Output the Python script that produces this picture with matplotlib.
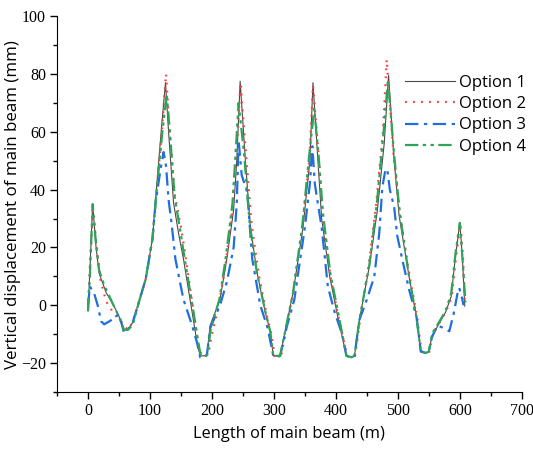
import matplotlib.pyplot as plt
from matplotlib.ticker import MultipleLocator

# Option 1 (solid)
x1 = [0, 3, 7.5, 13, 18, 29, 42, 50, 58, 64, 72, 82, 93, 104, 109, 118, 125, 130, 138, 146, 154, 168, 176,
      181, 188, 192, 197, 213, 224, 235, 240, 245.5, 254, 262, 273, 286, 294, 299, 305, 310, 320, 331, 347,
      358, 363, 371, 377, 390, 403, 417, 425, 430, 438, 454, 467, 478, 485, 494, 502, 518, 530, 537, 545,
      550, 555, 577, 586, 593, 600, 604, 608]
y1 = [-2, 12, 35, 20, 11, 4.5, -0.3, -3.8, -8.3, -8.5, -6, 1, 9, 23, 36.5, 60, 77, 60, 35.5, 25, 16, -2.4, -13,
      -17.5, -17.5, -17, -7, 2, 16, 33, 50, 77.5, 50, 27, 11, -2.4, -9, -17.5, -17.5, -17.5, -7, 4.5, 27,
      50, 77, 50, 30, 10, -4, -17.5, -18, -17.5, -5, 13.5, 33, 56, 79.5, 50, 31, 10, -4, -16, -16.5,
      -16, -10.7, -2.4, 3, 17, 28.5, 17, -0.3]

# Option 2 (dotted)
x2 = [0, 3, 8, 13, 20, 29, 42, 55, 64, 72, 82, 93, 104, 110, 119, 126, 131, 140, 150, 158, 170, 178,
      183, 190, 194, 200, 211, 222, 233, 239, 246, 255, 264, 276, 288, 296, 301, 307, 312, 321, 331, 346,
      357, 363, 372, 379, 392, 405, 418, 426, 431, 439, 453, 465, 476, 482, 493, 503, 519, 531, 538, 546,
      551, 556, 578, 587, 594, 601, 605, 608]
y2 = [-1, 14, 33, 22, 9, 1.4, -3, -6, -8.5, -6, 1, 9, 23, 38, 60, 80, 62, 38, 27, 16, -2, -13,
      -17.5, -17.5, -17, -10, 0, 14, 33, 50, 77, 52, 28, 10, -3, -10, -17.5, -17.5, -17, -7, 4.5, 27,
      50, 76, 52, 30, 9, -5, -17.5, -18, -17.5, -5, 14, 35, 60, 85, 52, 32, 10, -4, -16, -16.5,
      -16, -10, -2, 3, 17, 28, 17, 0]

# Option 3 (dash-dot)
x3 = [0, 3, 10, 16, 21, 26, 35, 45, 50, 58, 64, 72, 82, 93, 104, 109, 117, 122, 126, 130, 135, 141, 154,
      168, 176, 181, 188, 192, 197, 213, 224, 235, 240, 243, 248, 257, 265, 278, 290, 299, 305, 310, 320,
      333, 339, 350, 358, 362, 366, 371, 377, 387, 398, 410, 417, 425, 430, 438, 450, 462, 470, 475, 480,
      483, 487, 494, 499, 508, 518, 530, 537, 545, 550, 555, 564, 575, 583, 590, 597, 599, 603, 606]
y3 = [0, 6.5, 4, -0.3, -5.5, -6.6, -5.5, -4, -3, -9.5, -8.5, -6, 1, 9, 23, 35.5, 47, 53, 48, 36.5, 28, 16, 2,
      -7, -13, -18, -18, -17, -8, 0, 8, 20, 35, 57, 45, 39, 16, 0, -8, -17.5, -18, -17.5, -8,
      2, 11, 27, 42, 55, 42, 35, 27, 6.5, -2.4, -10, -17.5, -18, -17.5, -5, 2, 10, 25, 41, 47,
      47, 40, 34, 24, 15, 5.5, -4, -16, -16.5, -16, -11, -7, -8, -9, -3, 5, 6, 3, 0]

# Option 4 (dash-dot-dot)
x4 = [0, 3, 7.5, 13, 18, 26, 40, 50, 58, 64, 72, 82, 93, 104, 110, 120, 127, 132, 140, 148, 156, 170, 178,
      182, 189, 193, 198, 212, 222, 233, 238, 243, 252, 261, 272, 286, 294, 299, 305, 310, 320, 331, 346,
      357, 365, 372, 379, 391, 404, 417, 425, 430, 438, 454, 466, 477, 484, 494, 503, 518, 530, 537, 545,
      550, 555, 577, 586, 593, 600, 604, 609]
y4 = [-2, 10, 35, 21, 12, 7, 0.5, -4, -8.5, -8.5, -7, 1, 9, 23, 38, 60, 73, 60, 37, 27, 16, -2, -13,
      -17.5, -17.5, -17, -8, 2, 16, 35, 52, 70, 52, 28, 12, -2, -9, -17.5, -17.5, -17.5, -7, 4.5, 28,
      52, 68, 52, 32, 11, -3, -17.5, -18, -17.5, -5, 14, 35, 60, 78, 52, 32, 10, -4, -16, -16.5,
      -16, -10, -2, 4, 18, 28.5, 17, 1]

plt.rcParams['font.family'] = ['Open Sans', 'DejaVu Sans']

fig = plt.figure(figsize=(5.33, 4.49), dpi=100)
ax = fig.add_axes([0.107, 0.127, 0.872, 0.837])

ax.plot(x1, y1, color='#4a4a4a', lw=0.8, label='Option 1')
ax.plot(x2, y2, color='#ff3b3b', lw=1.6, linestyle=(0, (0.8, 2.8)), label='Option 2')
ax.plot(x3, y3, color='#1f6fdf', lw=1.6, linestyle=(0, (6, 2.5, 1.5, 2.5)), label='Option 3')
ax.plot(x4, y4, color='#2ea35a', lw=1.6, linestyle=(0, (6, 2, 1.5, 2, 1.5, 2)), label='Option 4')

ax.set_xlim(-50, 700)
ax.set_ylim(-30, 100)
ax.xaxis.set_major_locator(MultipleLocator(100))
ax.xaxis.set_minor_locator(MultipleLocator(50))
ax.yaxis.set_major_locator(MultipleLocator(20))
ax.yaxis.set_minor_locator(MultipleLocator(10))
ax.spines['top'].set_visible(False)
ax.spines['right'].set_visible(False)
ax.tick_params(which='major', direction='out', length=5, width=1, pad=3)
ax.tick_params(which='minor', direction='out', length=3, width=1)
for lab in ax.get_xticklabels() + ax.get_yticklabels():
    lab.set_family('Liberation Serif')
    lab.set_fontsize(11.5)

ax.set_xlabel('Length of main beam (m)', fontsize=11.8, labelpad=5)
ax.set_ylabel('Vertical displacement of main beam (mm)', fontsize=12.2)
ax.yaxis.set_label_coords(-0.078, 0.5)

ax.legend(loc='upper right', bbox_to_anchor=(1.035, 0.875), frameon=False, fontsize=12,
          handlelength=3.0, handletextpad=0.25, labelspacing=0.32, borderpad=0.2)

fig.savefig('out.png', dpi=100)
